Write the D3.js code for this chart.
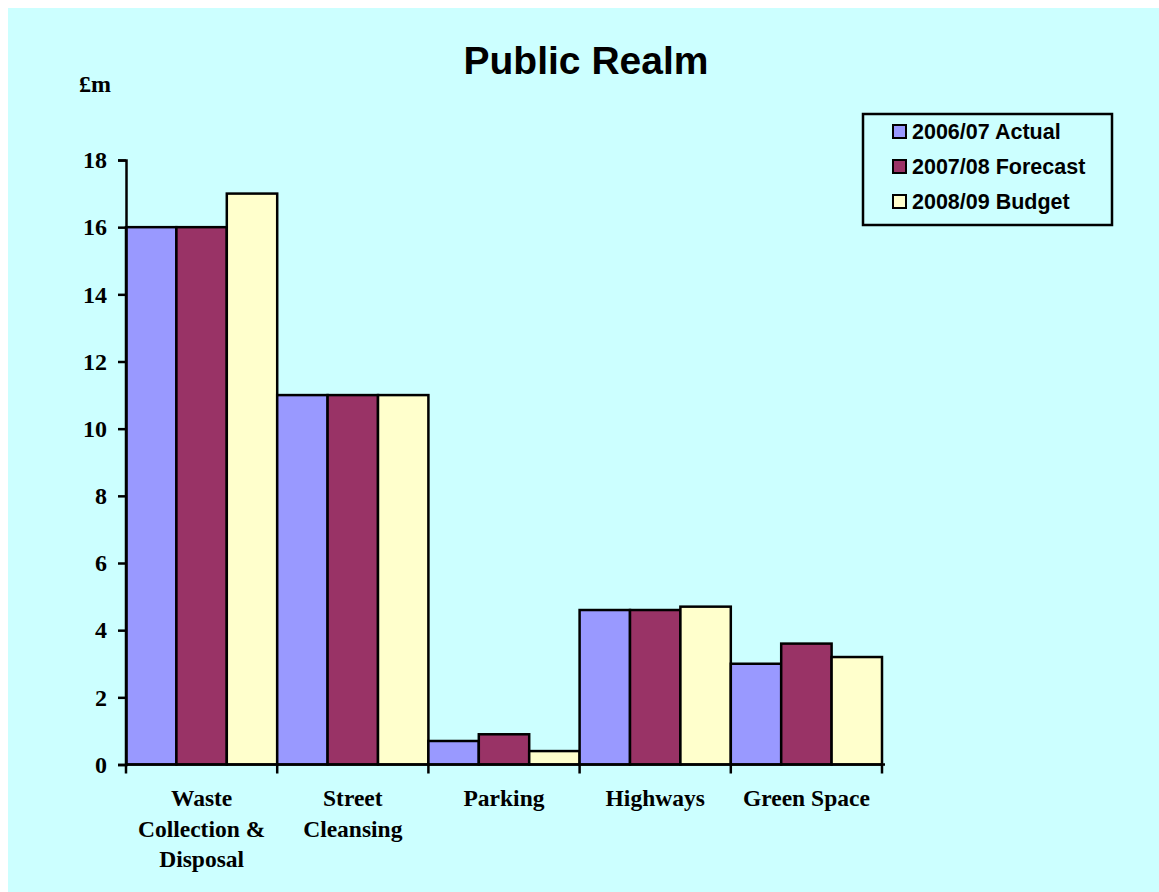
<!DOCTYPE html>
<html>
<head>
<meta charset="utf-8">
<script src="https://cdn.jsdelivr.net/npm/d3@7"></script>
<style>
  body { margin: 0; background: #fff; }
  .serif { font-family: "Liberation Serif", "Times New Roman", serif; font-weight: bold; }
  .sans { font-family: "Liberation Sans", Arial, sans-serif; font-weight: bold; }
</style>
</head>
<body>
<script>
// chart data
var categories = [["Waste", "Collection &", "Disposal"], ["Street", "Cleansing"], ["Parking"], ["Highways"], ["Green Space"]];
var seriesNames = ["2006/07 Actual", "2007/08 Forecast", "2008/09 Budget"];
var actual = [16, 11, 0.7, 4.6, 3.0];
var forecast = [16, 11, 0.9, 4.6, 3.6];
var budget = [17, 11, 0.4, 4.7, 3.2];
var yTicks = [0, 2, 4, 6, 8, 10, 12, 14, 16, 18];
var colors = ["#9999FF", "#993366", "#FFFFCC"];

var series = [actual, forecast, budget];

var W = 1159, H = 892;
var svg = d3.select("body").append("svg").attr("width", W).attr("height", H);

svg.append("rect").attr("x", 8).attr("y", 8).attr("width", W - 8).attr("height", H - 8)
  .attr("fill", "#CCFFFF");

var x0 = d3.scaleBand().domain(d3.range(categories.length)).range([126, 882]).padding(0);
var x1 = d3.scaleBand().domain(d3.range(series.length)).range([0, x0.bandwidth()]).padding(0);
var y = d3.scaleLinear().domain([0, 18]).range([764.5, 160]);

// title
svg.append("text").attr("class", "sans").attr("x", 586).attr("y", 74)
  .attr("text-anchor", "middle").style("font-size", "39px").text("Public Realm");

svg.append("text").attr("class", "serif").attr("x", 79).attr("y", 92)
  .style("font-size", "24px").text("£m");

// bars
var groups = svg.selectAll("g.grp").data(categories).enter().append("g")
  .attr("class", "grp")
  .attr("transform", function(d, i) { return "translate(" + x0(i) + ",0)"; });

groups.each(function(c, i) {
  d3.select(this).selectAll("rect").data(series.map(function(s) { return s[i]; }))
    .enter().append("rect")
    .attr("x", function(d, j) { return x1(j); })
    .attr("y", function(d) { return y(d); })
    .attr("width", x1.bandwidth())
    .attr("height", function(d) { return y(0) - y(d); })
    .attr("fill", function(d, j) { return colors[j]; })
    .attr("stroke", "#000").attr("stroke-width", 2.5);
});

// y axis
var yAxis = svg.append("g").attr("transform", "translate(126,0)")
  .call(d3.axisLeft(y).tickValues(yTicks).tickSize(8).tickPadding(11));
yAxis.select(".domain").attr("stroke-width", 2.5);
yAxis.selectAll(".tick line").attr("stroke-width", 2.5);
yAxis.selectAll(".tick text").attr("class", "serif").style("font-size", "24px").attr("fill", "#000");

// x axis line and boundary ticks
var bounds = d3.range(categories.length + 1).map(function(i) {
  return i < categories.length ? x0(i) : x0(i - 1) + x0.bandwidth();
});
svg.append("line").attr("x1", 126).attr("x2", 885).attr("y1", y(0)).attr("y2", y(0))
  .attr("stroke", "#000").attr("stroke-width", 2.5);
svg.selectAll("line.xt").data(bounds).enter().append("line").attr("class", "xt")
  .attr("x1", function(d) { return d; }).attr("x2", function(d) { return d; })
  .attr("y1", y(0)).attr("y2", y(0) + 9)
  .attr("stroke", "#000").attr("stroke-width", 2.5);

// category labels
svg.selectAll("text.cat").data(categories).enter().append("text")
  .attr("class", "serif cat")
  .attr("text-anchor", "middle")
  .style("font-size", "23.5px")
  .attr("transform", function(d, i) { return "translate(" + (x0(i) + x0.bandwidth() / 2) + ",806)"; })
  .each(function(lines) {
    d3.select(this).selectAll("tspan").data(lines).enter().append("tspan")
      .attr("x", 0).attr("y", function(d, k) { return k * 30.5; })
      .text(function(d) { return d; });
  });

// legend
var legend = svg.append("g");
legend.append("rect").attr("x", 863).attr("y", 114).attr("width", 249).attr("height", 111)
  .attr("fill", "#CCFFFF").attr("stroke", "#000").attr("stroke-width", 2.5);
var items = legend.selectAll("g.item").data(seriesNames).enter().append("g")
  .attr("transform", function(d, i) { return "translate(893," + (125 + i * 35) + ")"; });
items.append("rect").attr("width", 13).attr("height", 13)
  .attr("fill", function(d, i) { return colors[i]; })
  .attr("stroke", "#000").attr("stroke-width", 2);
items.append("text").attr("class", "sans").attr("x", 19).attr("y", 14)
  .style("font-size", "21.5px").text(function(d) { return d; });
</script>
</body>
</html>
